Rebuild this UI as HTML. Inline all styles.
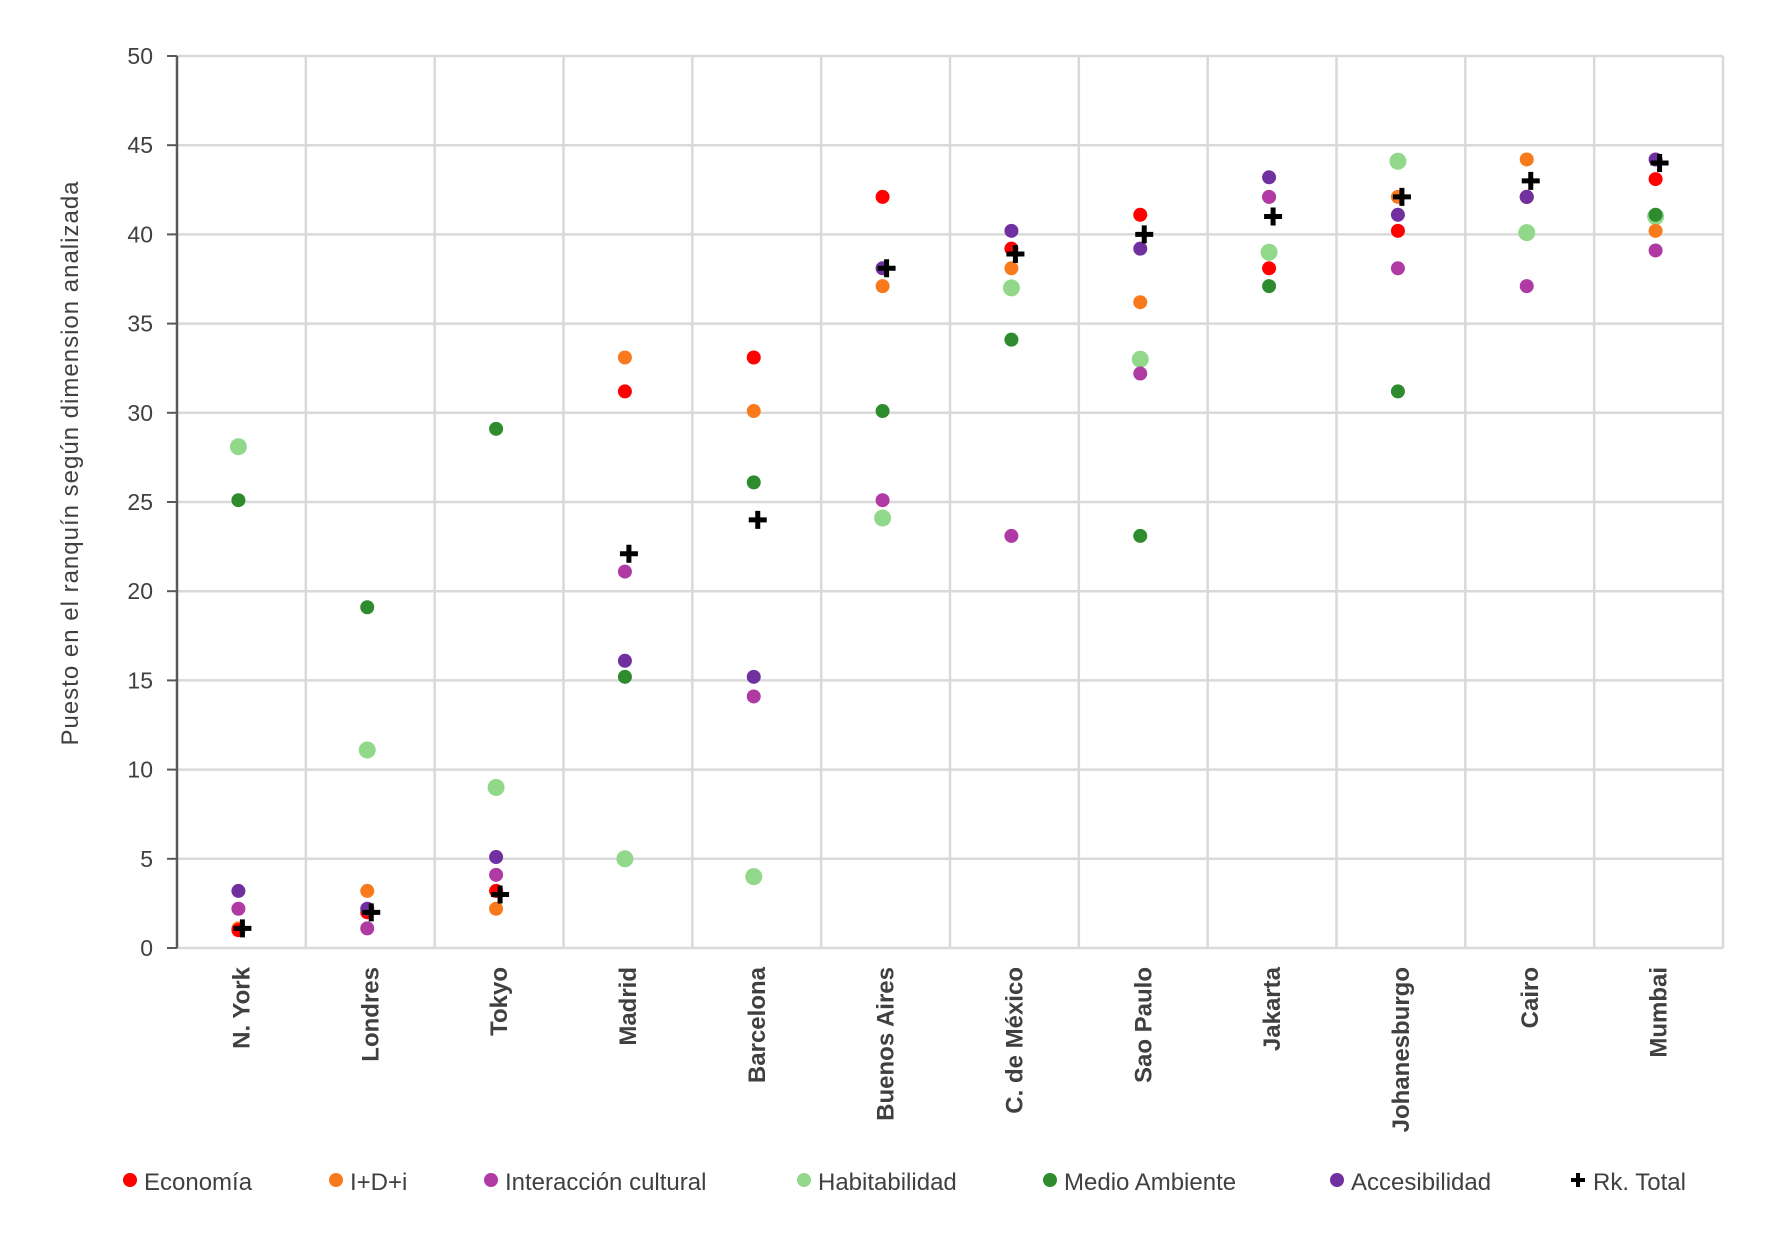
<!DOCTYPE html>
<html><head><meta charset="utf-8"><style>
html,body{margin:0;padding:0;background:#fff;}
svg{display:block;font-family:"Liberation Sans",sans-serif;}
</style></head><body>
<svg id="chart" width="1772" height="1242"></svg>
<script>
const categories=["N. York","Londres","Tokyo","Madrid","Barcelona","Buenos Aires","C. de México","Sao Paulo","Jakarta","Johanesburgo","Cairo","Mumbai"];
const economia=[1,2,3.2,31.2,33.1,42.1,39.2,41.1,38.1,40.2,42.1,43.1];
const idi=[1.1,3.2,2.2,33.1,30.1,37.1,38.1,36.2,42.1,42.1,44.2,40.2];
const interaccion=[2.2,1.1,4.1,21.1,14.1,25.1,23.1,32.2,42.1,38.1,37.1,39.1];
const habitabilidad=[28.1,11.1,9,5,4,24.1,37,33,39,44.1,40.1,41];
const medioAmbiente=[25.1,19.1,29.1,15.2,26.1,30.1,34.1,23.1,37.1,31.2,42.1,41.1];
const accesibilidad=[3.2,2.2,5.1,16.1,15.2,38.1,40.2,39.2,43.2,41.1,42.1,44.2];
const rkTotal=[1.1,2,3,22.1,24,38.1,38.9,40,41,42.1,43,44];
const yTicks=[0,5,10,15,20,25,30,35,40,45,50];
const seriesNames=["Economía","I+D+i","Interacción cultural","Habitabilidad","Medio Ambiente","Accesibilidad","Rk. Total"];

const NS="http://www.w3.org/2000/svg";
const svg=document.getElementById('chart');
const X0=177,X1=1723,Y0=948,Y1=56;
const band=(X1-X0)/categories.length;
const xc=i=>X0+band*(i+0.5);
const y=v=>Y0-(v/50)*(Y0-Y1);
function el(t,a,p){const e=document.createElementNS(NS,t);for(const k in a)e.setAttribute(k,a[k]);(p||svg).appendChild(e);return e;}

yTicks.forEach(t=>{
  if(t>0){const g=el('line',{x1:X0,x2:X1,y1:y(t),y2:y(t),stroke:'#d9d9d9','stroke-width':2.5});
  
  }
  const tk=el('line',{x1:X0-10,x2:X0,y1:y(t),y2:y(t),stroke:'#595959','stroke-width':2});
  
  
  const tx=el('text',{x:X0-24,y:y(t)+8,'text-anchor':'end','font-size':23,fill:'#404040'});
  tx.textContent=t;
  
  
});
for(let i=1;i<=categories.length;i++){
  const g=el('line',{x1:X0+band*i,x2:X0+band*i,y1:Y1,y2:Y0,stroke:'#d9d9d9','stroke-width':2.5});
  
  
}
const xa=el('line',{x1:X0,x2:X1,y1:Y0,y2:Y0,stroke:'#d9d9d9','stroke-width':2.5});


const ya=el('line',{x1:X0,x2:X0,y1:Y1,y2:Y0,stroke:'#595959','stroke-width':2.5});



categories.forEach((c,i)=>{
  const t=el('text',{transform:`translate(${xc(i)+8},967) rotate(-90)`,'text-anchor':'end','font-size':24,'font-weight':'bold',fill:'#404040'});
  t.textContent=c;
  
  
});
const yt=el('text',{transform:'translate(78,463) rotate(-90)','text-anchor':'middle','font-size':24,fill:'#404040','letter-spacing':'1'});
yt.textContent="Puesto en el ranquín  según dimension  analizada";



const series=[[economia,'#ff0000',7],[idi,'#f97a1c',7],[interaccion,'#b03aa4',7],[habitabilidad,'#92d88a',8.5],[medioAmbiente,'#2e8b2e',7],[accesibilidad,'#7030a0',7]];
const order=[3,4,1,0,2,5];
order.forEach(s=>{
  const [vals,col,r]=series[s];
  vals.forEach((v,i)=>{
    const c=el('circle',{cx:xc(i)-3,cy:y(v),r:r,fill:col});
    
    
  });
});
rkTotal.forEach((v,i)=>{
  const cx=xc(i)+1,cy=y(v);
  const p=el('path',{d:`M${cx-9},${cy}H${cx+9}M${cx},${cy-9}V${cy+9}`,stroke:'#000','stroke-width':5});
  
  
});

const legX=[127,333,488,801,1047,1334,1576];
const legCol=['#ff0000','#f97a1c','#b03aa4','#92d88a','#2e8b2e','#7030a0','#000'];
seriesNames.forEach((n,i)=>{
  const g=el('g',{});
  
  
  if(i<6){el('circle',{cx:legX[i]+3,cy:1180,r:7,fill:legCol[i]},g);}
  else{el('path',{d:`M${legX[i]-5},1180H${legX[i]+9}M${legX[i]+2},1173V1187`,stroke:'#000','stroke-width':4},g);}
  const t=el('text',{x:legX[i]+17,y:1190,'font-size':24,fill:'#404040'},g);
  t.textContent=n;
});
</script>
</body></html>
